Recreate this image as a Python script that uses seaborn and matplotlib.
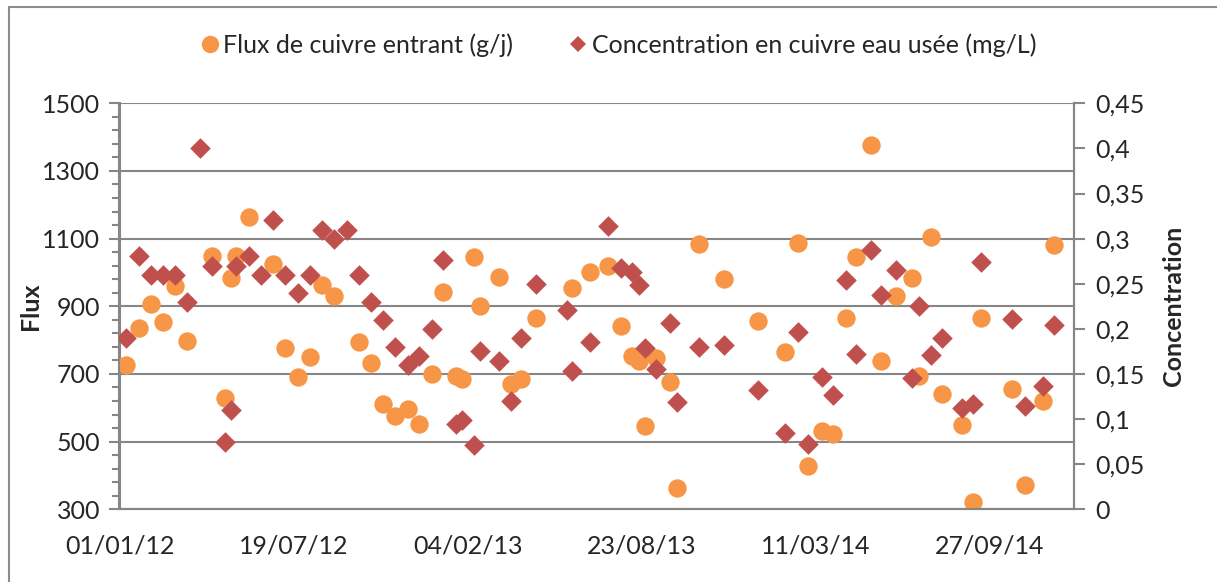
import matplotlib

matplotlib.use("Agg")
import matplotlib.dates as mdates
import matplotlib.pyplot as plt
import matplotlib.ticker as mticker
import pandas as pd
import seaborn as sns
from matplotlib.lines import Line2D
from matplotlib.patches import Rectangle

# ---- data -----------------------------------------------------------------
FLUX_DATES = [
    "2012-01-09", "2012-01-23", "2012-02-06", "2012-02-20", "2012-03-05", "2012-03-19",
    "2012-04-16", "2012-05-01", "2012-05-08", "2012-05-14", "2012-05-29", "2012-06-25",
    "2012-07-09", "2012-07-24", "2012-08-07", "2012-08-21", "2012-09-04", "2012-10-02",
    "2012-10-16", "2012-10-30", "2012-11-13", "2012-11-27", "2012-12-10", "2012-12-25",
    "2013-01-07", "2013-01-22", "2013-01-28", "2013-02-11", "2013-02-18", "2013-03-12",
    "2013-03-26", "2013-04-06", "2013-04-23", "2013-06-04", "2013-06-24", "2013-07-15",
    "2013-07-30", "2013-08-12", "2013-08-20", "2013-08-27", "2013-09-08", "2013-09-24",
    "2013-10-02", "2013-10-28", "2013-11-25", "2014-01-04", "2014-02-03", "2014-02-19",
    "2014-03-02", "2014-03-18", "2014-03-31", "2014-04-15", "2014-04-26", "2014-05-13",
    "2014-05-25", "2014-06-11", "2014-06-30", "2014-07-08", "2014-07-21", "2014-08-03",
    "2014-08-26", "2014-09-07", "2014-09-17", "2014-10-22", "2014-11-06", "2014-11-27",
    "2014-12-10",
]
FLUX_VALUES = [
    727, 837, 906, 855, 960, 796,
    1049, 630, 983, 1049, 1163, 1025,
    778, 691, 751, 964, 930, 794,
    733, 610, 577, 596, 551, 699,
    942, 695, 686, 1045, 902, 988,
    670, 686, 864, 955, 1002, 1019,
    843, 754, 739, 545, 746, 675,
    362, 1085, 980, 858, 764, 1086,
    427, 530, 522, 864, 1047, 1376,
    739, 930, 983, 694, 1105, 640,
    550, 323, 866, 656, 373, 619,
    1080,
]
CONC_DATES = [
    "2012-01-09", "2012-01-23", "2012-02-06", "2012-02-20", "2012-03-05", "2012-03-19",
    "2012-04-02", "2012-04-16", "2012-05-01", "2012-05-08", "2012-05-14", "2012-05-29",
    "2012-06-11", "2012-06-25", "2012-07-09", "2012-07-24", "2012-08-07", "2012-08-21",
    "2012-09-04", "2012-09-18", "2012-10-02", "2012-10-16", "2012-10-30", "2012-11-13",
    "2012-11-27", "2012-12-10", "2012-12-25", "2013-01-07", "2013-01-22", "2013-01-28",
    "2013-02-11", "2013-02-18", "2013-03-12", "2013-03-26", "2013-04-06", "2013-04-23",
    "2013-05-29", "2013-06-04", "2013-06-24", "2013-07-15", "2013-07-30", "2013-08-12",
    "2013-08-20", "2013-08-27", "2013-09-08", "2013-09-24", "2013-10-02", "2013-10-28",
    "2013-11-25", "2014-01-04", "2014-02-03", "2014-02-19", "2014-03-02", "2014-03-18",
    "2014-03-31", "2014-04-15", "2014-04-26", "2014-05-13", "2014-05-25", "2014-06-11",
    "2014-06-30", "2014-07-08", "2014-07-21", "2014-08-03", "2014-08-26", "2014-09-07",
    "2014-09-17", "2014-10-22", "2014-11-06", "2014-11-27", "2014-12-10",
]
CONC_VALUES = [
    0.190, 0.281, 0.260, 0.260, 0.260, 0.230,
    0.400, 0.270, 0.075, 0.110, 0.270, 0.281,
    0.260, 0.321, 0.260, 0.240, 0.260, 0.310,
    0.300, 0.310, 0.260, 0.230, 0.210, 0.180,
    0.160, 0.170, 0.200, 0.276, 0.095, 0.099,
    0.071, 0.176, 0.164, 0.120, 0.190, 0.250,
    0.221, 0.153, 0.185, 0.314, 0.267, 0.263,
    0.249, 0.179, 0.156, 0.207, 0.119, 0.180,
    0.182, 0.132, 0.085, 0.196, 0.072, 0.147,
    0.127, 0.254, 0.172, 0.287, 0.238, 0.265,
    0.146, 0.225, 0.171, 0.190, 0.112, 0.117,
    0.274, 0.211, 0.115, 0.137, 0.204,
]

FLUX_LABEL = "Flux de cuivre entrant (g/j)"
CONC_LABEL = "Concentration en cuivre eau usée (mg/L)"

ORANGE = "#F79646"
RED = "#C0504D"
GRAY = "#868686"
FS = 18

sns.set_theme(style="white")
plt.rcParams["font.family"] = ["Lato", "DejaVu Sans"]
plt.rcParams["font.size"] = FS

flux = pd.DataFrame({"date": pd.to_datetime(FLUX_DATES), "flux": FLUX_VALUES})
conc = pd.DataFrame({"date": pd.to_datetime(CONC_DATES), "conc": CONC_VALUES})

fig = plt.figure(figsize=(12.17, 5.82), dpi=100)
ax = fig.add_axes([119.5 / 1217, 1 - 509.3 / 582, (1073.5 - 119.5) / 1217, 406 / 582])
ax2 = ax.twinx()

sns.scatterplot(data=flux, x="date", y="flux", ax=ax, color=ORANGE, marker="o",
                s=175, linewidth=0, zorder=3, legend=False)
sns.scatterplot(data=conc, x="date", y="conc", ax=ax2, color=RED, marker="D",
                s=110, linewidth=0, zorder=3, legend=False)

# x axis: Excel date axis, major unit 200 days
start, end = pd.Timestamp("2012-01-01"), pd.Timestamp("2015-01-01")
ax.set_xlim(start, end)
ax.set_xticks(pd.date_range(start, end, freq="200D"))
ax.xaxis.set_major_formatter(mdates.DateFormatter("%d/%m/%y"))

# left axis
ax.set_ylim(300, 1500)
ax.set_yticks(range(300, 1501, 200))
ax.set_yticks(range(300, 1501, 40), minor=True)
ax.grid(axis="y", which="major", color=GRAY, linewidth=1.5)
ax.set_axisbelow(True)

# right axis
ax2.set_ylim(0, 0.45)
ax2.set_yticks([i * 0.05 for i in range(10)])
ax2.yaxis.set_major_formatter(mticker.FuncFormatter(lambda v, _: f"{round(v, 2):g}".replace(".", ",")))
ax2.grid(False)

for a in (ax, ax2):
    for side, sp in a.spines.items():
        sp.set_color(GRAY)
        sp.set_linewidth(1.5)
        sp.set_visible(side != "top")
ax.tick_params(axis="both", which="major", direction="out", length=8, width=1.5,
               color=GRAY, pad=6, labelsize=FS)
ax.tick_params(axis="y", which="minor", direction="out", length=6, width=1.5, color=GRAY, left=True)
ax.tick_params(axis="x", pad=10)
ax2.tick_params(axis="y", which="major", direction="out", length=8, width=1.5,
                color=GRAY, pad=8, labelsize=FS)

ax.set_xlabel("")
ax.set_ylabel("Flux", fontweight="bold", fontsize=FS, labelpad=0)
ax2.set_ylabel("Concentration", fontweight="bold", fontsize=FS, labelpad=12)

handles = [
    Line2D([], [], marker="o", ls="", color=ORANGE, markersize=12.5, markeredgewidth=0, label=FLUX_LABEL),
    Line2D([], [], marker="D", ls="", color=RED, markersize=8.5, markeredgewidth=0, label=CONC_LABEL),
]
fig.legend(handles=handles, loc="center", bbox_to_anchor=(0.508, 1 - 45 / 582), ncol=2,
           frameon=False, fontsize=FS, handlelength=0.8, handletextpad=0.15, columnspacing=2.2)

# chart-area border (only the left and top edges fall inside the image)
fig.patches.append(Rectangle((9 / 1217, -0.2), 1.5, 1.2 - 7 / 582, transform=fig.transFigure,
                             fill=False, edgecolor="#8c8c8c", linewidth=1.5))

fig.savefig("out.png", dpi=100)
